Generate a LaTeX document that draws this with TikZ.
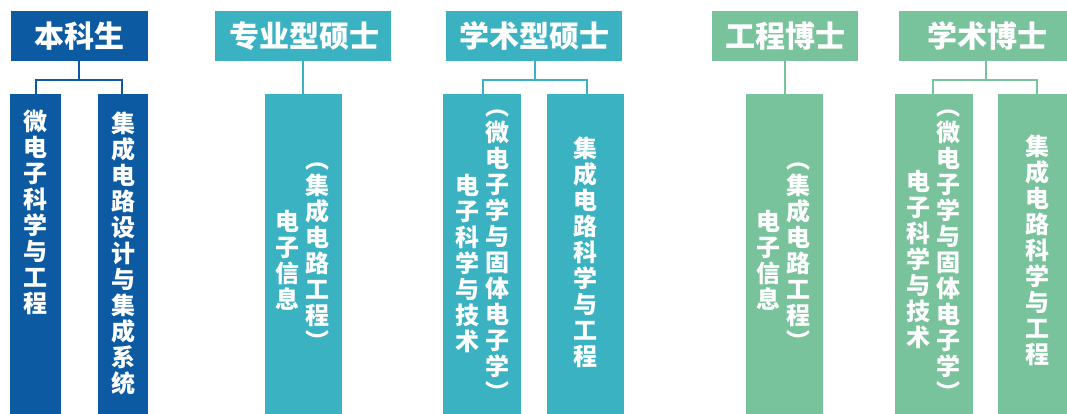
\documentclass[tikz,border=0pt]{standalone}
\usepackage{fontspec}
\newfontfamily\cjk{Noto Sans CJK SC}
\definecolor{cblue}{HTML}{0C5AA2}
\definecolor{cteal}{HTML}{3AB2C2}
\definecolor{cgreen}{HTML}{79C39C}
\begin{document}
\begin{tikzpicture}[x=1pt,y=-1pt,
  head/.style={inner sep=0pt,text=white,font=\cjk\bfseries\fontsize{30}{32}\selectfont},
  subbox/.style={inner sep=0pt},
  col/.style={inner sep=0pt,anchor=north,text=white,align=center,text width=26pt,font=\cjk\bfseries\fontsize{24}{26}\selectfont},
  link/.style={line width=2pt,draw=#1}]
\useasboundingbox (0,0) rectangle (1067,414);
% header boxes
\fill[cblue] (11,11) rectangle (148,61);
\node[head] (h1) at (79,36) {本科生};
\coordinate (h1b) at (79,61);
\fill[cteal] (215,11) rectangle (391,61);
\node[head] (h2) at (304,36) {专业型硕士};
\coordinate (h2b) at (303,61);
\fill[cteal] (446,11) rectangle (622,61);
\node[head] (h3) at (534,36) {学术型硕士};
\coordinate (h3b) at (535,61);
\fill[cgreen] (712,11) rectangle (858,61);
\node[head] (h4) at (785,36) {工程博士};
\coordinate (h4b) at (785,61);
\fill[cgreen] (899,11) rectangle (1075,61);
\node[head] (h5) at (987,36) {学术博士};
\coordinate (h5b) at (986,61);
% sub boxes
\fill[cblue] (10,94) rectangle (61,420);
\coordinate (b1a) at (36,94);
\fill[cblue] (98,94) rectangle (148,420);
\coordinate (b1b) at (122,94);
\fill[cteal] (265,94) rectangle (342,420);
\coordinate (b2a) at (303,94);
\fill[cteal] (443,94) rectangle (521,420);
\coordinate (b3a) at (483,94);
\fill[cteal] (547,94) rectangle (624,420);
\coordinate (b3b) at (587,94);
\fill[cgreen] (746,94) rectangle (823,420);
\coordinate (b4a) at (785,94);
\fill[cgreen] (895,94) rectangle (973,420);
\coordinate (b5a) at (933,94);
\fill[cgreen] (998,94) rectangle (1076,420);
\coordinate (b5b) at (1037,94);
% connectors
\draw[link=cblue] (h1b) -- (79,80) -| (b1a);
\draw[link=cblue] (79,80) -| (b1b);
\draw[link=cteal] (h2b) -- (b2a);
\draw[link=cteal] (h3b) -- (535,80) -| (b3a);
\draw[link=cteal] (535,80) -| (b3b);
\draw[link=cgreen] (h4b) -- (b4a);
\draw[link=cgreen] (h5b) -- (986,80) -| (b5a);
\draw[link=cgreen] (986,80) -| (b5b);
% vertical texts
\node[col] (t1) at (36,110) {微\\电\\子\\科\\学\\与\\工\\程};
\node[col] (t2) at (123,112) {集\\成\\电\\路\\设\\计\\与\\集\\成\\系\\统};
\node[col] (t3a) at (287,210) {电\\子\\信\\息};
\node[col] (t3b) at (317,163) {︵\\集\\成\\电\\路\\工\\程\\︶};
\node[col] (t4a) at (467,174) {电\\子\\科\\学\\与\\技\\术};
\node[col] (t4b) at (497,110) {︵\\微\\电\\子\\学\\与\\固\\体\\电\\子\\学\\︶};
\node[col] (t5) at (585,137) {集\\成\\电\\路\\科\\学\\与\\工\\程};
\node[col] (t6a) at (768,210) {电\\子\\信\\息};
\node[col] (t6b) at (798,163) {︵\\集\\成\\电\\路\\工\\程\\︶};
\node[col] (t7a) at (918,170) {电\\子\\科\\学\\与\\技\\术};
\node[col] (t7b) at (948,110) {︵\\微\\电\\子\\学\\与\\固\\体\\电\\子\\学\\︶};
\node[col] (t8) at (1037,135) {集\\成\\电\\路\\科\\学\\与\\工\\程};
\end{tikzpicture}
\end{document}
